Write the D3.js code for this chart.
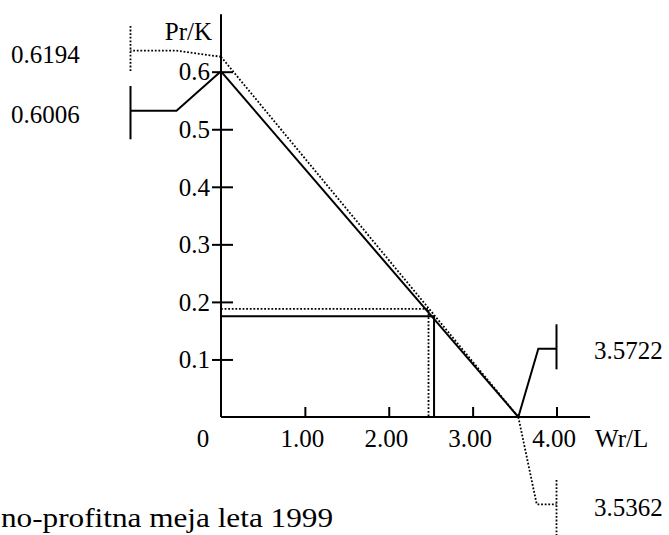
<!DOCTYPE html>
<html>
<head>
<meta charset="utf-8">
<script src="https://cdn.jsdelivr.net/npm/d3@7"></script>
<style>
  html, body { margin: 0; padding: 0; background: #fff; }
  svg { display: block; }
  text { font-family: "Liberation Serif", "Times New Roman", serif; fill: #000; }
</style>
</head>
<body>
<svg id="chart" width="669" height="535"></svg>
<script>
// ---- data ----
const xTickValues = [1, 2, 3, 4];
const xTickLabels = ["1.00", "2.00", "3.00", "4.00"];
const yTickValues = [0.1, 0.2, 0.3, 0.4, 0.5, 0.6];
const yTickLabels = ["0.1", "0.2", "0.3", "0.4", "0.5", "0.6"];
const seriesKeys = ["solid", "dotted"];
const interceptPr = [0.6006, 0.626];     // y-axis intercepts (as drawn)
const interceptWr = [3.545, 3.545];      // x-axis intercepts (as drawn)
const breakEvenWr = [2.54, 2.474];
const breakEvenPr = [0.175, 0.188];
const prCalloutLabels = ["0.6006", "0.6194"];
const wrCalloutLabels = ["3.5722", "3.5362"];
const xAxisTitle = "Wr/L";
const yAxisTitle = "Pr/K";
const originLabel = "0";
const caption = "no-profitna meja leta 1999";

// ---- drawing ----
const svg = d3.select("#chart");
const FS = 25;
const x = d3.scaleLinear().domain([0, 4]).range([221, 556.5]);
const y = d3.scaleLinear().domain([0, 0.6]).range([417, 71.7]);
const xMax = 4.4, yMax = 0.7;

const dash = { solid: null, dotted: "1.8,1.8" };
const width = { solid: 2, dotted: 1.8 };

// axes lines
svg.append("line").attr("x1", x(0)).attr("x2", x(xMax)).attr("y1", y(0)).attr("y2", y(0))
  .attr("stroke", "#000").attr("stroke-width", 2);
svg.append("line").attr("x1", x(0)).attr("x2", x(0)).attr("y1", y(0)).attr("y2", y(yMax))
  .attr("stroke", "#000").attr("stroke-width", 2);

// y axis ticks (crossing the axis)
const yAxis = d3.axisLeft(y).tickValues(yTickValues)
  .tickFormat((d, i) => yTickLabels[i]).tickSizeOuter(0).tickSizeInner(0);
const gy = svg.append("g").attr("transform", `translate(${x(0)},0)`).call(yAxis);
gy.select(".domain").remove();
gy.selectAll(".tick line").attr("x1", -9).attr("x2", 12).attr("stroke", "#000").attr("stroke-width", 2);
gy.selectAll(".tick text").attr("x", -11).attr("dy", "0.33em")
  .attr("font-size", FS).attr("font-family", "Liberation Serif").attr("text-anchor", "end");

// x axis ticks (upward)
const xAxis = d3.axisBottom(x).tickValues(xTickValues)
  .tickFormat((d, i) => xTickLabels[i]).tickSizeOuter(0).tickSizeInner(0);
const gx = svg.append("g").attr("transform", `translate(0,${y(0)})`).call(xAxis);
gx.select(".domain").remove();
gx.selectAll(".tick line").attr("y1", 0).attr("y2", -10).attr("stroke", "#000").attr("stroke-width", 2);
gx.selectAll(".tick text").attr("y", 30).attr("dy", 0).attr("dx", -3)
  .attr("font-size", FS).attr("font-family", "Liberation Serif");

// origin label, axis titles
svg.append("text").attr("x", x(0) - 18).attr("y", y(0) + 30).attr("text-anchor", "middle")
  .attr("font-size", FS).text(originLabel);
svg.append("text").attr("x", x(xMax) + 5).attr("y", y(0) + 30)
  .attr("font-size", FS).text(xAxisTitle);
svg.append("text").attr("x", x(0) - 9).attr("y", 40).attr("text-anchor", "end")
  .attr("font-size", FS).text(yAxisTitle);

// profit lines and break-even lines
seriesKeys.forEach((k, i) => {
  const style = sel => sel.attr("fill", "none").attr("stroke", "#000")
    .attr("stroke-width", width[k]).attr("stroke-dasharray", dash[k]);
  svg.append("path").call(style)
    .attr("d", d3.line()([[x(0), y(interceptPr[i])], [x(interceptWr[i]), y(0)]]));
  svg.append("path").call(style)
    .attr("d", d3.line()([[x(0), y(breakEvenPr[i])], [x(breakEvenWr[i]), y(breakEvenPr[i])], [x(breakEvenWr[i]), y(0)]]));
});

// callouts for y intercepts (left)
const leftKneeY = [110.7, 50.7];
const leftBracket = [[86, 139.3], [26, 72.7]];
const leftLabelBase = [122.5, 62.5];
seriesKeys.forEach((k, i) => {
  const ax = x(0), ay = y(interceptPr[i]);
  const bx = ax - 90.5;
  const style = sel => sel.attr("fill", "none").attr("stroke", "#000")
    .attr("stroke-width", width[k]).attr("stroke-dasharray", dash[k]);
  svg.append("path").call(style)
    .attr("d", d3.line()([[ax, ay], [ax - 44.5, leftKneeY[i]], [bx, leftKneeY[i]]]));
  svg.append("path").call(style)
    .attr("d", d3.line()([[bx, leftBracket[i][0]], [bx, leftBracket[i][1]]]));
  svg.append("text").attr("x", 11).attr("y", leftLabelBase[i]).attr("font-size", FS).text(prCalloutLabels[i]);
});

// callouts for x intercepts (right)
const rightKneeY = [348.7, 504.3];
const rightKneeDx = [20, 18.4];
const rightBracket = [[324.3, 369.3], [480, 540]];
const rightLabelBase = [358.5, 515.7];
seriesKeys.forEach((k, i) => {
  const ax = x(interceptWr[i]), ay = y(0);
  const bx = x(4);
  const style = sel => sel.attr("fill", "none").attr("stroke", "#000")
    .attr("stroke-width", width[k]).attr("stroke-dasharray", dash[k]);
  svg.append("path").call(style)
    .attr("d", d3.line()([[ax, ay], [ax + rightKneeDx[i], rightKneeY[i]], [bx, rightKneeY[i]]]));
  svg.append("path").call(style)
    .attr("d", d3.line()([[bx, rightBracket[i][0]], [bx, rightBracket[i][1]]]));
  svg.append("text").attr("x", 594).attr("y", rightLabelBase[i]).attr("font-size", FS).text(wrCalloutLabels[i]);
});

// caption
svg.append("text").attr("x", 1).attr("y", 527).attr("font-size", 28)
  .attr("textLength", 332).attr("lengthAdjust", "spacingAndGlyphs").text(caption);
</script>
</body>
</html>
